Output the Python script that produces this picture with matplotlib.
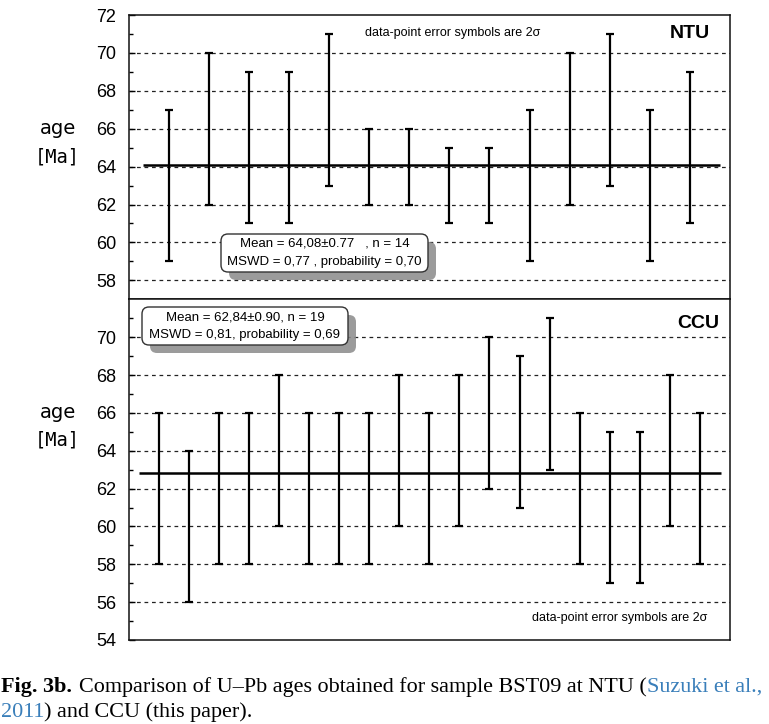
import matplotlib
matplotlib.use('Agg')
import matplotlib.pyplot as plt
from matplotlib.patches import FancyBboxPatch
from matplotlib import font_manager

W, H, DPI = 769, 724, 100

# ---------------- data ----------------
ntu_age = [63, 66, 65, 65, 67, 64, 64, 63, 63, 63, 66, 67, 63, 65]
ntu_err = [4, 4, 4, 4, 4, 2, 2, 2, 2, 4, 4, 4, 4, 4]
ccu_age = [62, 60, 62, 62, 64, 62, 62, 62, 64, 62, 64, 66, 65, 67, 62, 61, 61, 64, 62]
ccu_err = [4, 4, 4, 4, 4, 4, 4, 4, 4, 4, 4, 4, 4, 4, 4, 4, 4, 4, 4]
ntu_mean = 64.08
ccu_mean = 62.84
ntu_ticks = [58, 60, 62, 64, 66, 68, 70, 72]
ccu_ticks = [54, 56, 58, 60, 62, 64, 66, 68, 70]
ntu_box = ["Mean = 64,08\u00b10.77   , n = 14", "MSWD = 0,77 , probability = 0,70"]
ccu_box = ["Mean = 62,84\u00b10.90, n = 19", "MSWD = 0,81, probability = 0,69"]
note = "data-point error symbols are 2\u03c3"

names = {f.name for f in font_manager.fontManager.ttflist}
NARROW = 'Liberation Sans Narrow' if 'Liberation Sans Narrow' in names else 'Liberation Sans'
SERIF = 'Liberation Serif'

fig = plt.figure(figsize=(W / DPI, H / DPI), dpi=DPI)
fig.patch.set_facecolor('white')


def fx(x):
    return x / W


def fy(y):
    return 1 - y / H


L, R, T, M, B = 128.7, 730, 15, 299.3, 640
ax1 = fig.add_axes([fx(L), fy(M), fx(R) - fx(L), fy(T) - fy(M)])
ax2 = fig.add_axes([fx(L), fy(B), fx(R) - fx(L), fy(M) - fy(B)])


def style(ax, ages, errs, mean, ticks, minor, ylim, xmax, mline):
    x = list(range(1, len(ages) + 1))
    ax.set_xlim(0, xmax)
    ax.set_ylim(*ylim)
    for v in ticks:
        if ylim[0] < v < ylim[1]:
            ax.axhline(v, color='#222222', lw=0.9, ls=(0, (3, 3)), zorder=1)
    ax.hlines(mean, mline[0], mline[1], color='black', lw=1.8, zorder=2)
    ax.errorbar(x, ages, yerr=errs, fmt='none', ecolor='black',
                elinewidth=1.6, capsize=3.2, capthick=1.6, zorder=3)
    ax.set_xticks([])
    ax.set_yticks(ticks)
    ax.set_yticks(minor, minor=True)
    ax.tick_params(axis='y', which='major', direction='in', length=4, width=1,
                   pad=9, labelsize=13)
    ax.tick_params(axis='y', which='minor', direction='in', length=3, width=1)
    for lab in ax.get_yticklabels():
        lab.set_fontfamily(NARROW)
    for s in ax.spines.values():
        s.set_linewidth(1.1)
        s.set_color('#111111')


style(ax1, ntu_age, ntu_err, ntu_mean, ntu_ticks, [59, 61, 63, 65, 67, 69, 71],
      (57, 72), 15, (0.35, 14.75))
style(ax2, ccu_age, ccu_err, ccu_mean, ccu_ticks, [55, 57, 59, 61, 63, 65, 67, 69, 71],
      (54, 72), 20, (0.35, 19.7))

# panel annotations
fig.text(fx(453), fy(33), note, family=NARROW, fontsize=9, ha='center', va='center')
fig.text(fx(707), fy(618), note, family=NARROW, fontsize=9, ha='right', va='center')
fig.text(fx(690), fy(34), "NTU", family='Liberation Sans', weight='bold',
         fontsize=14, ha='center', va='center')
fig.text(fx(698), fy(323), "CCU", family='Liberation Sans', weight='bold',
         fontsize=14, ha='center', va='center')

# y labels
for yc_age, yc_ma in [(129, 157), (412, 440)]:
    fig.text(fx(58), fy(yc_age), "age", family='DejaVu Sans', fontsize=14,
             ha='center', va='center')
    fig.text(fx(57), fy(yc_ma), "[Ma]", family='DejaVu Sans Mono', fontsize=13.5,
             ha='center', va='center')


# stat boxes (pixel geometry -> inches)
def statbox(x0, y0, x1, y1, lines):
    w, h = (x1 - x0) / DPI, (y1 - y0) / DPI
    off = 8 / DPI
    sh = FancyBboxPatch((x0 / DPI + off, (H - y1) / DPI - off), w, h,
                        boxstyle="round,pad=0,rounding_size=0.07",
                        transform=fig.dpi_scale_trans, facecolor='#8a8a8a',
                        edgecolor='none', alpha=0.85, zorder=5)
    bx = FancyBboxPatch((x0 / DPI, (H - y1) / DPI), w, h,
                        boxstyle="round,pad=0,rounding_size=0.07",
                        transform=fig.dpi_scale_trans, facecolor='white',
                        edgecolor='#333333', lw=1.0, zorder=6)
    fig.add_artist(sh)
    fig.add_artist(bx)
    xc = (x0 + x1) / 2
    yc = (y0 + y1) / 2
    fig.text(fx(xc), fy(yc - 9), lines[0], family=NARROW, fontsize=9.5,
             ha='center', va='center', zorder=7)
    fig.text(fx(xc), fy(yc + 9), lines[1], family=NARROW, fontsize=9.5,
             ha='center', va='center', zorder=7)


statbox(221, 234, 428, 272, ntu_box)
statbox(142, 307, 348, 345, ccu_box)

# caption
BLUE = '#3a7fba'
renderer = fig.canvas.get_renderer()
line1 = [("Fig. 3b.", 'bold', 'black'), ("Comparison of U\u2013Pb ages obtained for sample BST09 at NTU (", 'normal', 'black'),
         ("Suzuki et al.,", 'normal', BLUE)]
line2 = [("2011", 'normal', BLUE), (") and CCU (this paper).", 'normal', 'black')]


def measure(s, weight, size):
    t = fig.text(0, 0, s, family=SERIF, weight=weight, fontsize=size)
    w = t.get_window_extent(renderer).width
    t.remove()
    return w


base = 15.0
gap = 7
tot = sum(measure(s, wt, base) for s, wt, c in line1) + gap
size = base * (764 - gap) / (tot - gap)


def draw_line(segs, x, y, gaps):
    for i, (s, wt, c) in enumerate(segs):
        t = fig.text(fx(x), fy(y), s, family=SERIF, weight=wt, fontsize=size,
                     color=c, ha='left', va='baseline')
        x += t.get_window_extent(renderer).width + gaps[i]


draw_line(line1, 1, 692, [gap, 0, 0])
draw_line(line2, 1, 717, [0, 0])

fig.savefig('out.png', dpi=DPI, facecolor='white')
